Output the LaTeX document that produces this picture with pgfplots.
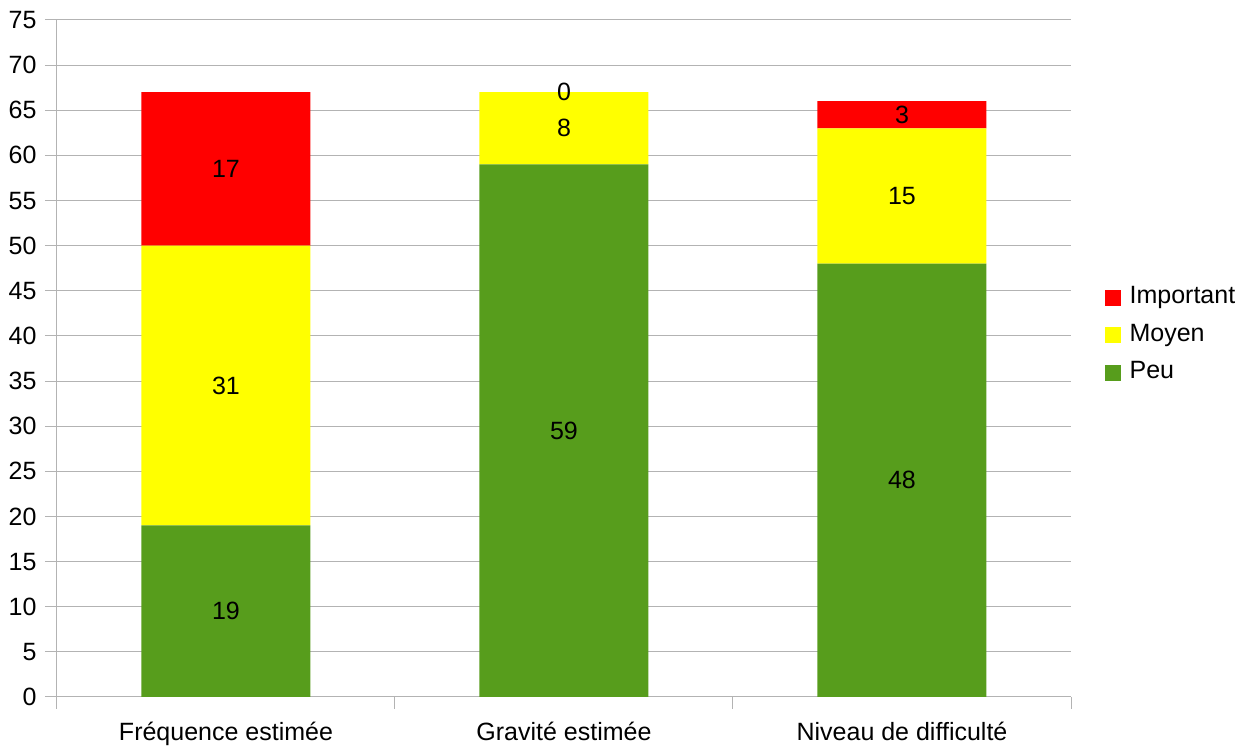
\documentclass[border=0pt]{standalone}
\usepackage{pgfplots}
\pgfplotsset{compat=1.18}
\usepackage{fontspec}
\setmainfont{Liberation Sans}
\definecolor{cred}{HTML}{FF0000}
\definecolor{cyel}{HTML}{FFFF00}
\definecolor{cgrn}{HTML}{579D1C}
\definecolor{cgrid}{HTML}{B3B3B3}
\begin{document}
\fontsize{25}{30}\selectfont
\begin{tikzpicture}
\useasboundingbox (-57pt,-52pt) rectangle (1197pt,697pt);
\begin{axis}[
  at={(0pt,0pt)}, anchor=south west,
  scale only axis, width=1014pt, height=677pt,
  ybar stacked, bar width=0.5,
  xmin=-0.5, xmax=2.5, ymin=0, ymax=75,
  enlargelimits=false,
  clip=false,
  /pgf/number format/assume math mode=true,
  ytick={0,5,...,75},
  xtick={-0.5,0.5,1.5,2.5},
  xticklabels={},
  extra x ticks={0,1,2},
  extra x tick labels={Fréquence estimée, Gravité estimée, Niveau de difficulté},
  extra x tick style={major tick length=0pt, tick style={draw=none}},
  xticklabel style={font=\fontsize{25}{30}\selectfont, text=black, yshift=-17pt},
  yticklabel style={font=\fontsize{25}{30}\selectfont, text=black, xshift=0pt},
  tick align=outside,
  major tick length=12pt,
  tick style={cgrid, line width=1pt},
  axis x line*=bottom, axis y line*=left,
  axis line style={cgrid, line width=1pt, -},
  ymajorgrids,
  grid style={cgrid, line width=1pt},
  nodes near coords,
  every node near coord/.append style={anchor=center, font=\fontsize{25}{30}\selectfont, text=black},
  legend style={at={(1.030,0.5347)}, anchor=west, draw=none, fill=none,
    font=\fontsize{25}{30}\selectfont,
    nodes={text height=18pt, text depth=6pt, inner sep=0pt},
    row sep=13.5pt, column sep=9pt},
  legend cell align=left,
  reverse legend,
  legend image code/.code={\fill[#1,draw=none] (0pt,-8pt) rectangle (16pt,8pt);},
]
\addplot[fill=cgrn, draw=none] coordinates {(0,19) (1,59) (2,48)};
\addlegendentry{Peu}
\addplot[fill=cyel, draw=none] coordinates {(0,31) (1,8) (2,15)};
\addlegendentry{Moyen}
\addplot[fill=cred, draw=none] coordinates {(0,17) (1,0) (2,3)};
\addlegendentry{Important}
\end{axis}
\begin{axis}[
  at={(0pt,0pt)}, anchor=south west,
  scale only axis, width=1014pt, height=677pt,
  xmin=-0.5, xmax=2.5, ymin=0, ymax=75,
  enlargelimits=false, clip=false,
  hide axis,
]
\addplot[draw=none, mark=none, nodes near coords, point meta=explicit symbolic,
  every node near coord/.append style={anchor=center, font=\fontsize{25}{30}\selectfont, text=black}]
  coordinates {(1,67) [0]};
\end{axis}
\end{tikzpicture}
\end{document}
